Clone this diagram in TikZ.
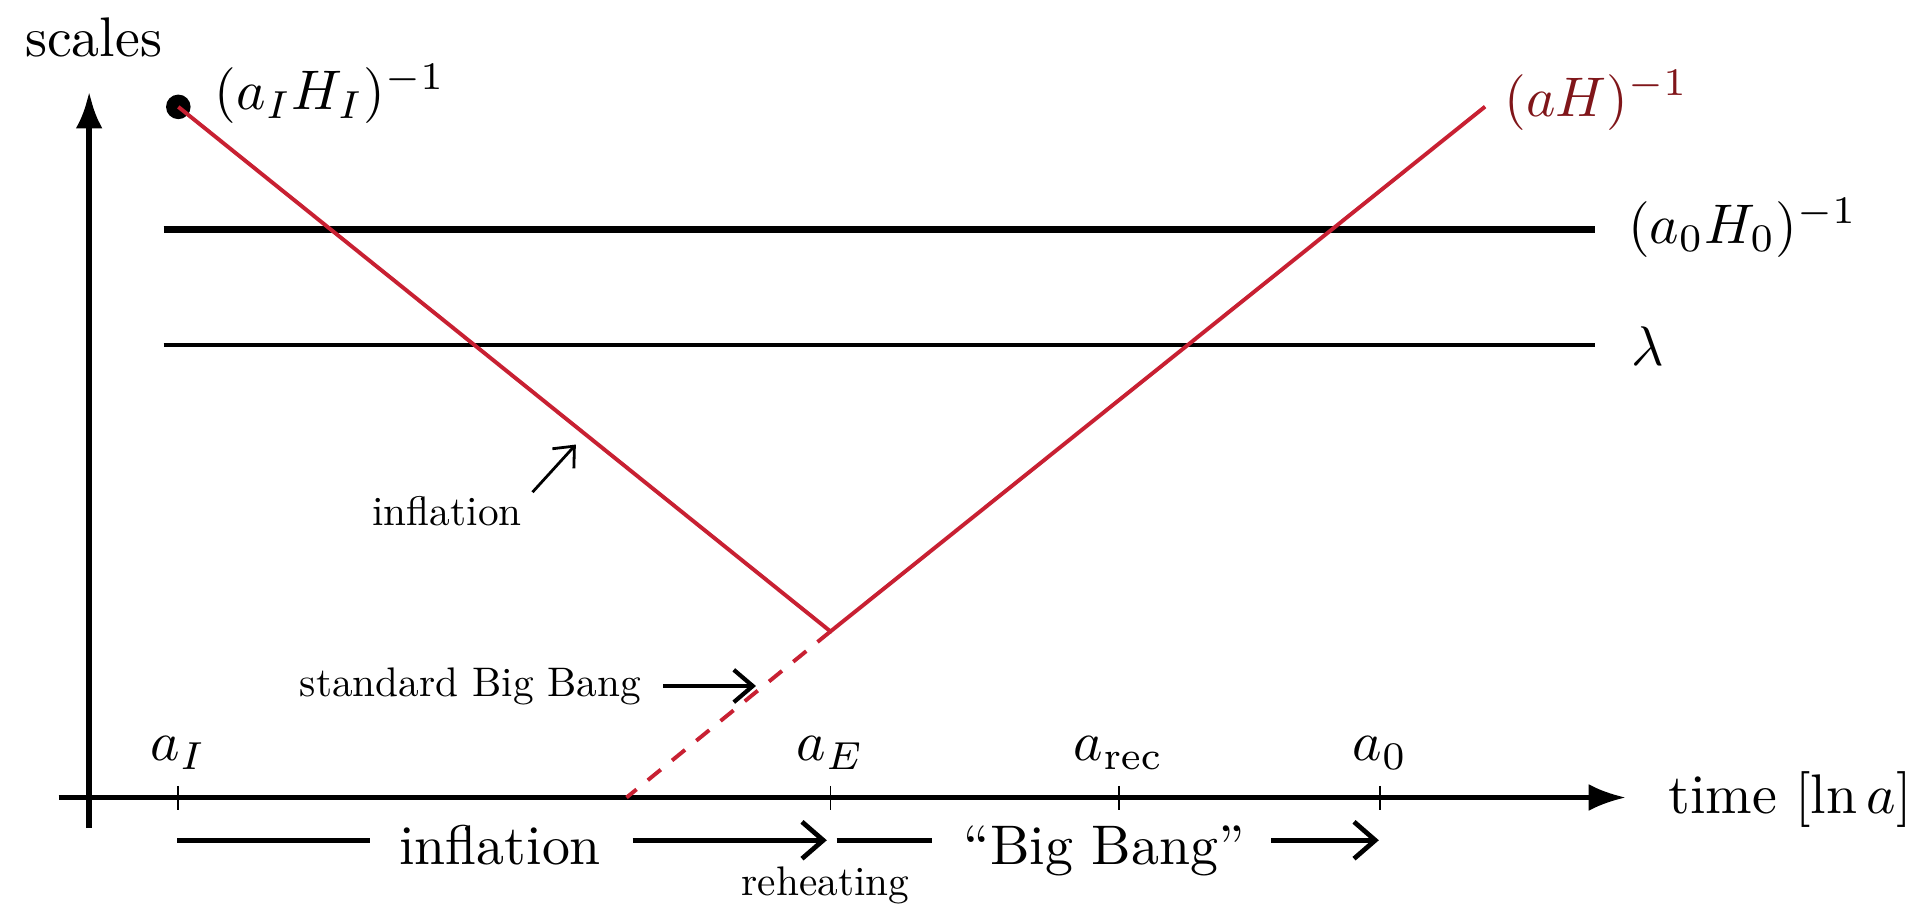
\documentclass[tikz,border=0pt]{standalone}
\usetikzlibrary{arrows.meta}
\definecolor{linered}{RGB}{200,32,50}
\definecolor{labelred}{RGB}{128,22,26}
\tikzset{
  axisline/.style={line width=0.8pt,-{Latex[length=6.6pt,width=4.8pt]}},
  vaxisline/.style={line width=1.1pt,-{Latex[length=6.6pt,width=4.8pt]}},
  tickline/.style={line width=0.3pt},
  scaleline/.style={line width=0.75pt},
  thickscale/.style={line width=1.35pt},
  redline/.style={line width=0.7pt,color=linered},
  reddash/.style={redline,dash pattern=on 3pt off 2.6pt},
  barline/.style={line width=0.85pt},
  bararrow/.style={line width=0.85pt,-{Straight Barb[length=3.8pt,width=6.6pt]}},
  sbbarrow/.style={line width=0.75pt,-{Straight Barb[length=3.4pt,width=5.8pt]}},
  smallarrow/.style={line width=0.5pt,-{Straight Barb[length=3pt,width=5.2pt]}},
  lbl/.style={inner sep=0pt,outer sep=0pt},
  smalllbl/.style={inner sep=0pt,outer sep=0pt,scale=0.74},
}
\begin{document}
\begin{tikzpicture}[x=0.21875pt,y=-0.21875pt]
\useasboundingbox (0,0) rectangle (1568,745);

% axes
\coordinate (vbot) at (73,678);
\coordinate (vtop) at (73,75);
\coordinate (hleft) at (48,653);
\coordinate (hright) at (1331,653);
\draw[vaxisline] (vbot) -- (vtop);
\draw[axisline] (hleft) -- (hright);
\node[lbl,anchor=base west] (scales) at (20.5,46.5) {scales};
\node[lbl,anchor=base west] (time) at (1366,666) {time $[\ln a]$};

% ticks
\foreach \nm/\xx in {I/146,E/680,rec/916,zero/1130}{
  \coordinate (t\nm a) at (\xx,643.5);
  \coordinate (t\nm b) at (\xx,663);
  \draw[tickline] (t\nm a) -- (t\nm b);
}
\node[lbl,anchor=base] (laI) at (146,623) {$a_I$};
\node[lbl,anchor=base] (laE) at (680,623) {$a_E$};
\node[lbl,anchor=base] (larec) at (916,623) {$a_{\rm rec}$};
\node[lbl,anchor=base] (lazero) at (1130,623) {$a_0$};

% horizontal scales
\coordinate (hA1) at (134,188);
\coordinate (hA2) at (1306,188);
\coordinate (hB1) at (134,282.5);
\coordinate (hB2) at (1306,282.5);
\draw[thickscale] (hA1) -- (hA2);
\draw[scaleline] (hB1) -- (hB2);
\node[lbl,anchor=base west] (lH0) at (1333,199.4) {$(a_0H_0)^{-1}$};
\node[lbl,anchor=base west] (llam) at (1336,299) {$\lambda$};

% Hubble radius
\node[circle,fill=black,inner sep=0pt,minimum size=4.4pt] (dotI) at (146,87.5) {};
\coordinate (V) at (680,517);
\coordinate (P) at (1216,87.3);
\coordinate (B) at (513,653);
\draw[redline] (dotI.center) -- (V) -- (P);
\draw[reddash] (V) -- (B);
\node[lbl,anchor=base west] (lHI) at (176,90) {$(a_IH_I)^{-1}$};
\node[lbl,anchor=base west,text=labelred] (laH) at (1232,95) {$(aH)^{-1}$};

% small annotations
\node[smalllbl,anchor=base west] (infl) at (305,430) {inflation};
\coordinate (inflA) at (436,403);
\coordinate (inflT) at (471.5,364);
\draw[smallarrow] (inflA) -- (inflT);
\node[smalllbl,anchor=base west] (sbb) at (245.5,570.4) {standard Big Bang};
\coordinate (sbbA) at (543,561.7);
\coordinate (sbbT) at (619,561.7);
\draw[sbbarrow] (sbbA) -- (sbbT);

% bottom epochs
\coordinate (b1) at (145,688);
\coordinate (b2) at (303,688);
\coordinate (b3) at (518,688);
\coordinate (b4) at (677,688);
\coordinate (b5) at (685,688);
\coordinate (b6) at (763,688);
\coordinate (b7) at (1041,688);
\coordinate (b8) at (1129,688);
\draw[barline] (b1) -- (b2);
\node[lbl,anchor=base] (inflB) at (409.5,707.5) {inflation};
\draw[bararrow] (b3) -- (b4);
\draw[barline] (b5) -- (b6);
\node[lbl,anchor=base] (bigbang) at (904,708) {“Big Bang”};
\draw[bararrow] (b7) -- (b8);
\node[smalllbl,anchor=base] (reh) at (676,733) {reheating};
\end{tikzpicture}
\end{document}
